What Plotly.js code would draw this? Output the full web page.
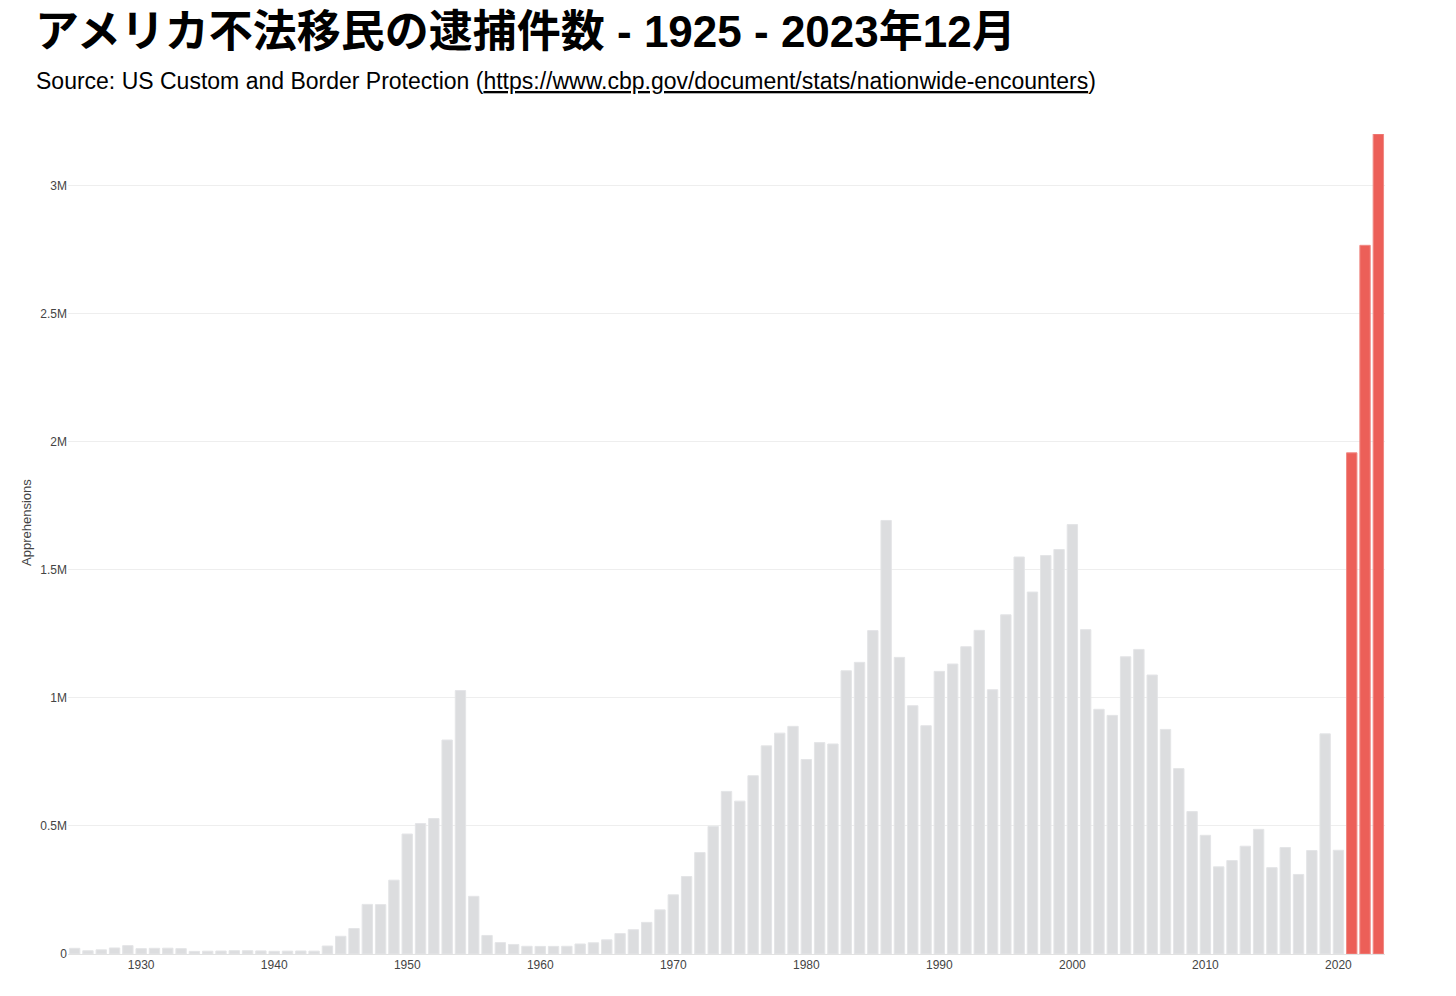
<!DOCTYPE html>
<html>
<head>
<meta charset="utf-8">
<script src="https://cdn.plot.ly/plotly-3.0.1.min.js"></script>
<style>html,body{margin:0;padding:0;background:#fff;}#chart{width:1456px;height:996px;}</style>
</head>
<body>
<div id="chart"></div>
<script>
// Fiscal years
const years = [];
for (let y = 1925; y <= 2023; y++) years.push(y);

// Apprehensions
const apprehensions = [
  22199, 12735, 16393, 23566, 32711, 20880, 22276, 22735, 20949, 10319,   // 1925-1934
  11016, 11728, 13054, 12851, 12037, 10492, 11294, 11784, 11175, 31174,   // 1935-1944
  69164, 99591, 193657, 192779, 288253, 468339, 509040, 528815, 835311, 1028246, // 1945-1954
  225186, 72442, 44451, 37242, 30196, 29651, 29817, 30272, 39124, 43844,  // 1955-1964
  55349, 79610, 94778, 123519, 172391, 231116, 302517, 396000, 498123, 634777, // 1965-1974
  596796, 696039, 812541, 862217, 888729, 759420, 825290, 819919, 1105670, 1138566, // 1975-1984
  1262435, 1692544, 1158030, 969214, 891147, 1103353, 1132033, 1199560, 1263490, 1031668, // 1985-1994
  1324202, 1549876, 1412953, 1555776, 1579010, 1676438, 1266214, 955310, 931557, 1160395, // 1995-2004
  1189075, 1089092, 876704, 723825, 556041, 463382, 340252, 364768, 420789, 486651, // 2005-2014
  337117, 415816, 310531, 404142, 859501, 405036, 1956519, 2766582, 3201144 // 2015-2023
];

const highlightFrom = 2021;
const yTickVals = [0, 500000, 1000000, 1500000, 2000000, 2500000, 3000000];
const yTickText = ['0', '0.5M', '1M', '1.5M', '2M', '2.5M', '3M'];
const xTickVals = [1930, 1940, 1950, 1960, 1970, 1980, 1990, 2000, 2010, 2020];

const titleText = 'アメリカ不法移民の逮捕件数 - 1925 - 2023年12月';
const subtitleText = 'Source: US Custom and Border Protection (<a href="https://www.cbp.gov/document/stats/nationwide-encounters" style="color:#000;"><u>https://www.cbp.gov/document/stats/nationwide-encounters</u></a>)';
const yTitleText = 'Apprehensions';

const grey = '#dcdddf';
const red = '#ec5f58';
const colors = years.map(y => y >= highlightFrom ? red : grey);
const lineColors = years.map(y => y >= highlightFrom ? '#f08a85' : '#e4e5e7');

const trace = {
  type: 'bar',
  x: years,
  y: apprehensions,
  marker: {color: colors, line: {color: lineColors, width: 1}},
  hoverinfo: 'x+y'
};

const PW = 1456 - 68 - 71, PH = 996 - 134 - 42;

const layout = {
  width: 1456,
  height: 996,
  paper_bgcolor: '#fff',
  plot_bgcolor: '#fff',
  margin: {l: 68, r: 71, t: 134, b: 42},
  bargap: 0.22,
  showlegend: false,
  font: {family: 'Liberation Sans, Arial, "Noto Sans CJK JP", sans-serif', color: '#333'},
  title: {
    text: '<b>' + titleText + '</b>',
    font: {family: 'Liberation Sans, Arial, "Noto Sans CJK JP", sans-serif', size: 44, color: '#000'},
    x: 35 / 1456, xanchor: 'left', xref: 'container',
    y: 1 - 32 / 996, yanchor: 'middle', yref: 'container'
  },
  annotations: [{
    text: subtitleText,
    xref: 'paper', yref: 'paper',
    x: (34 - 68) / PW, xanchor: 'left',
    y: 1 + (134 - 81) / PH, yanchor: 'middle',
    showarrow: false,
    font: {family: 'Liberation Sans, Arial, sans-serif', size: 23, color: '#000'}
  }, {
    text: yTitleText,
    xref: 'paper', yref: 'paper',
    x: (26 - 68) / PW, xanchor: 'center',
    y: (954 - 522) / PH, yanchor: 'middle',
    textangle: -90,
    showarrow: false,
    font: {family: 'Liberation Sans, Arial, sans-serif', size: 13, color: '#444'}
  }],
  xaxis: {
    range: [1924.5, 2023.5],
    tickvals: xTickVals,
    ticks: '',
    showgrid: false,
    showline: true,
    linecolor: '#e2e2e2',
    linewidth: 1,
    zeroline: false,
    tickfont: {size: 12, color: '#444'},
    fixedrange: true
  },
  yaxis: {
    range: [0, 3201144],
    tickvals: yTickVals,
    ticktext: yTickText,
    ticks: '',
    showgrid: true,
    gridcolor: '#eeeeee',
    gridwidth: 1,
    zeroline: false,
    showline: false,
    tickfont: {size: 12, color: '#444'},
    fixedrange: true
  }
};

Plotly.newPlot('chart', [trace], layout, {displayModeBar: false});
</script>
</body>
</html>
